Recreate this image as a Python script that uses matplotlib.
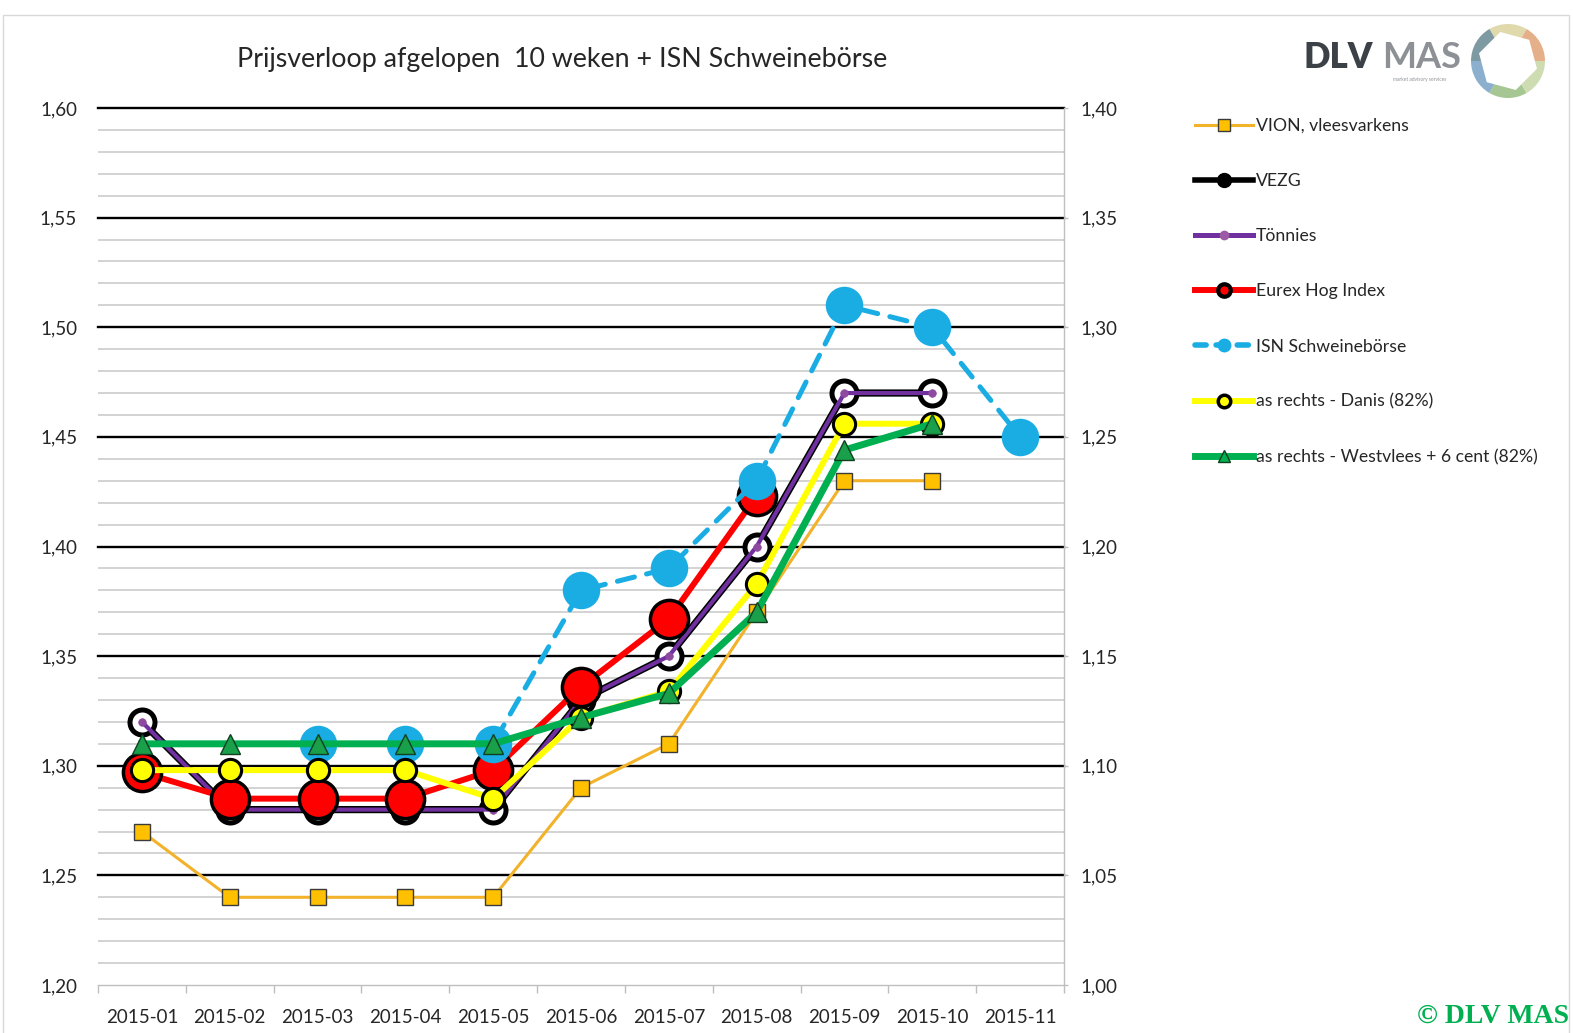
import numpy as np
import matplotlib
matplotlib.use("Agg")
import matplotlib.pyplot as plt
from matplotlib.lines import Line2D
from matplotlib.patches import Rectangle, Wedge, RegularPolygon
from matplotlib.ticker import FuncFormatter

plt.rcParams['font.family'] = ['Lato', 'DejaVu Sans']

# ---------------- data ----------------
categories = ['2015-01', '2015-02', '2015-03', '2015-04', '2015-05', '2015-06',
              '2015-07', '2015-08', '2015-09', '2015-10', '2015-11']
nan = np.nan
vion = [1.27, 1.24, 1.24, 1.24, 1.24, 1.29, 1.31, 1.37, 1.43, 1.43, nan]
vezg = [1.32, 1.28, 1.28, 1.28, 1.28, 1.33, 1.35, 1.40, 1.47, 1.47, nan]
toennies = [1.32, 1.28, 1.28, 1.28, 1.28, 1.33, 1.35, 1.40, 1.47, 1.47, nan]
eurex = [1.297, 1.285, 1.285, 1.285, 1.298, 1.336, 1.367, 1.423, nan, nan, nan]
isn = [nan, nan, 1.31, 1.31, 1.31, 1.38, 1.39, 1.43, 1.51, 1.50, 1.45]
# secondary (right) axis series
danis = [1.098, 1.098, 1.098, 1.098, 1.085, 1.122, 1.134, 1.183, 1.256, 1.256, nan]
westvlees = [1.110, 1.110, 1.110, 1.110, 1.110, 1.122, 1.133, 1.170, 1.244, 1.256, nan]

series_labels = ['VION, vleesvarkens', 'VEZG', 'Tönnies', 'Eurex Hog Index',
                 'ISN Schweinebörse', 'as rechts - Danis (82%)',
                 'as rechts - Westvlees + 6 cent (82%)']
title = 'Prijsverloop afgelopen  10 weken + ISN Schweinebörse'

# ---------------- figure ----------------
W, H = 1573, 1033
fig = plt.figure(figsize=(W / 100, H / 100), dpi=100)
fig.patch.set_facecolor('white')

# chart border
fig.add_artist(Rectangle((3 / W, -0.05), 1566 / W, 1 - 15 / H + 0.05,
                         transform=fig.transFigure, fill=False,
                         edgecolor='#d9d9d9', lw=1))

left, right, top, bottom = 98, 1064, 108, 985
ax = fig.add_axes([left / W, 1 - bottom / H, (right - left) / W, (bottom - top) / H])
ax2 = ax.twinx()

x = np.arange(len(categories))
ax.set_xlim(-0.5, len(categories) - 0.5)
ax.set_ylim(1.20, 1.60)
ax2.set_ylim(1.00, 1.40)

fmt = FuncFormatter(lambda v, p: f'{v:.2f}'.replace('.', ','))
ax.set_yticks(np.arange(1.20, 1.6001, 0.05))
ax.set_yticks(np.arange(1.20, 1.60, 0.01), minor=True)
ax.yaxis.set_major_formatter(fmt)
ax2.set_yticks(np.arange(1.00, 1.4001, 0.05))
ax2.yaxis.set_major_formatter(fmt)

ax.grid(which='minor', axis='y', color='#c8c8c8', lw=1.1, zorder=0)
ax.grid(which='major', axis='y', color='black', lw=1.7, zorder=0)
ax.yaxis.get_major_ticks()[0].gridline.set_visible(False)
for gl in ax.yaxis.get_gridlines():
    gl.set_clip_on(False)
ax.set_axisbelow(True)

ax.set_xticks(x)
ax.set_xticklabels(categories)
ax.set_xticks(np.arange(-0.5, len(categories), 1.0), minor=True)
ax.tick_params(axis='x', which='major', length=0, pad=17, labelsize=13.5, labelcolor='#262626')
ax.tick_params(axis='x', which='minor', length=6, color='#bfbfbf', width=1)
ax.tick_params(axis='y', which='both', length=0, pad=15, labelsize=13.5, labelcolor='#262626')
ax2.tick_params(axis='y', which='major', length=3, color='#bfbfbf', width=1, pad=9,
                labelsize=13.5, labelcolor='#262626')

for s in ['top', 'left', 'right']:
    ax.spines[s].set_visible(False)
ax.spines['bottom'].set_color('#bfbfbf')
ax.spines['bottom'].set_linewidth(1)
for s in ['top', 'left', 'bottom']:
    ax2.spines[s].set_visible(False)
ax2.spines['right'].set_color('#bfbfbf')
ax2.spines['right'].set_linewidth(1)

# ---------------- series ----------------
c_vion, c_vion_edge = '#FFC000', '#3a3a3a'
c_purple = '#7030A0'
c_red = '#FF0000'
c_blue = '#1AADE4'
c_yellow = '#FFFF00'
c_green = '#00B050'

ax.plot(x, vion, color='#F2B22A', lw=2.2, marker='s', ms=12, mfc=c_vion,
        mec=c_vion_edge, mew=1, zorder=3)
ax.plot(x, vezg, color='black', lw=5.2, marker='o', ms=18, mfc='white',
        mec='black', mew=3.6, zorder=4)
ax.plot(x, toennies, color=c_purple, lw=3.0, marker='o', ms=5.5, mfc='#8e4a9e',
        mec='#8e4a9e', mew=0.5, zorder=5)
ax.plot(x, eurex, color=c_red, lw=4.3, marker='o', ms=27.5, mfc=c_red,
        mec='black', mew=2.5, zorder=6)
ax.plot(x, isn, color=c_blue, lw=3.6, ls=(0, (3.5, 2.5)), dash_capstyle='round',
        marker='o', ms=27, mfc=c_blue, mec=c_blue, mew=0, zorder=7)
ax2.plot(x, danis, color=c_yellow, lw=4.3, marker='o', ms=16, mfc=c_yellow,
         mec='black', mew=2.2, zorder=3)
ax2.plot(x, westvlees, color=c_green, lw=5, marker='^', ms=15, mfc='#1aa04a',
         mec='#10401f', mew=1, zorder=4)

# ---------------- legend ----------------
handles = [
    Line2D([], [], color='#F2B22A', lw=2.2, marker='s', ms=8, mfc=c_vion, mec=c_vion_edge, mew=1),
    Line2D([], [], color='black', lw=4, marker='o', ms=10, mfc='black', mec='black'),
    Line2D([], [], color=c_purple, lw=3.6, marker='o', ms=6, mfc='#9b5aa3', mec='#9b5aa3'),
    Line2D([], [], color=c_red, lw=4.3, marker='o', ms=9, mfc=c_red, mec='black', mew=3),
    Line2D([], [], color=c_blue, lw=4, ls=(0, (2, 1.8)), dash_capstyle='round',
           marker='o', ms=9, mfc=c_blue, mec=c_blue),
    Line2D([], [], color=c_yellow, lw=4.3, marker='o', ms=9, mfc=c_yellow, mec='black', mew=2.5),
    Line2D([], [], color=c_green, lw=5, marker='^', ms=8, mfc=c_green, mec='#10401f', mew=1),
]
fig.legend(handles, series_labels, loc='upper left',
           bbox_to_anchor=(1195 / W, 1 - 118 / H), frameon=False,
           fontsize=12.7, handlelength=3.3, handletextpad=0.15,
           labelspacing=2.22, borderaxespad=0, borderpad=0, labelcolor='#262626')

# ---------------- title ----------------
fig.text(562 / W, 1 - 60 / H, title, ha='center', va='center', fontsize=19.3,
         color='#262626')

# ---------------- logo ----------------
fig.text(1303 / W, 1 - 58 / H, 'DLV', ha='left', va='center', fontsize=25,
         fontweight='heavy', color='#3c4148')
fig.text(1382 / W, 1 - 58 / H, 'MAS', ha='left', va='center', fontsize=26,
         fontweight='bold', color='#8d9196')
fig.text(1420 / W, 1 - 79 / H, 'market advisory services', ha='center', va='center',
         fontsize=3.5, color='#8d9196')
lx0, ly0, lw_, lh_ = 1466, 19, 84, 84
lax = fig.add_axes([lx0 / W, 1 - (ly0 + lh_) / H, lw_ / W, lh_ / H])
lax.set_xlim(-42, 42)
lax.set_ylim(-42, 42)
lax.set_aspect('equal')
lax.axis('off')
ring_cols = ['#e3a77c', '#ddd5a3', '#6f8f98', '#7ea7c8', '#9cc088', '#c9d9a9']
for i, c in enumerate(ring_cols):
    lax.add_patch(Wedge((0, 0), 37, i * 60, (i + 1) * 60, facecolor=c,
                        edgecolor='none', alpha=0.9))
lax.add_patch(RegularPolygon((0, 0), 6, radius=30, orientation=np.pi / 12,
                             facecolor='white', edgecolor='none'))

# ---------------- copyright ----------------
fig.text(1569 / W, 1 - 1016 / H, '© DLV MAS', ha='right', va='center',
         fontsize=20, fontweight='bold', color='#00B050',
         family=['Liberation Serif', 'DejaVu Serif'])

fig.savefig('out.png', dpi=100)
